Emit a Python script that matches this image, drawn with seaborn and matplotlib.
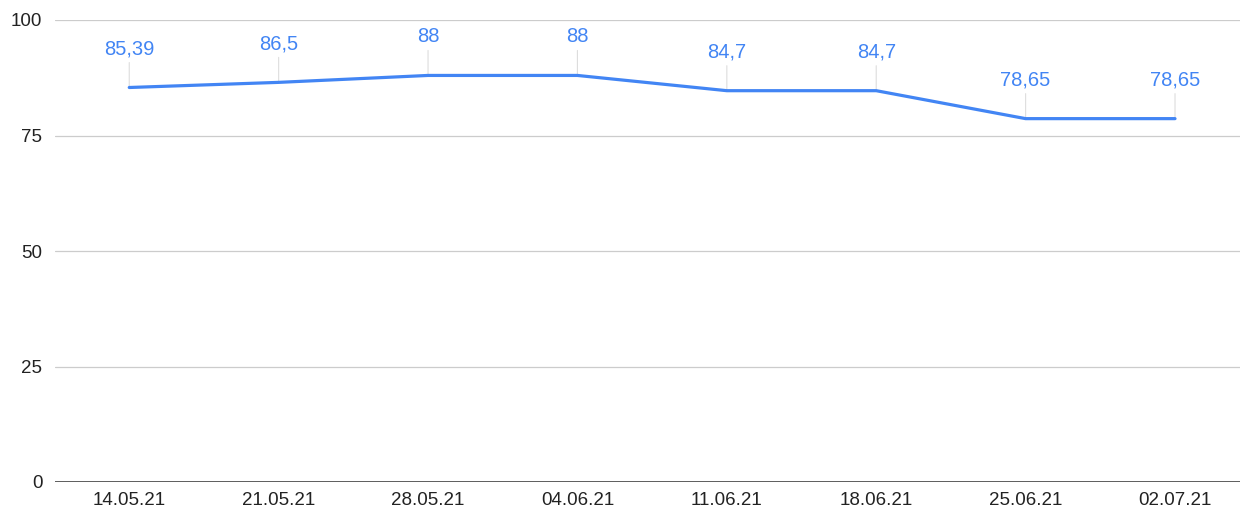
import pandas as pd
import matplotlib
matplotlib.use("Agg")
import matplotlib.pyplot as plt
import seaborn as sns

# data
dates = ["14.05.21", "21.05.21", "28.05.21", "04.06.21",
         "11.06.21", "18.06.21", "25.06.21", "02.07.21"]
values = [85.39, 86.5, 88, 88, 84.7, 84.7, 78.65, 78.65]
labels = ["85,39", "86,5", "88", "88", "84,7", "84,7", "78,65", "78,65"]

df = pd.DataFrame({"date": dates, "value": values})

sns.set_style("white")
plt.rcParams['font.family'] = ['Liberation Sans', 'DejaVu Sans']

fig = plt.figure(figsize=(12.4, 5.16), dpi=100)
ax = fig.add_axes([55 / 1240, 1 - 482 / 516, 1 - 55 / 1240, (482 - 20) / 516])

blue = "#4285F4"
sns.lineplot(data=df, x="date", y="value", ax=ax, color=blue, linewidth=2.3,
             sort=False, zorder=3)

# data labels with small leader lines
for i, (v, lab) in enumerate(zip(values, labels)):
    ax.annotate("", xy=(i, v), xytext=(0, 18), textcoords="offset points",
                arrowprops=dict(arrowstyle="-", color="#dddddd", lw=0.8,
                                shrinkA=0, shrinkB=0), zorder=2)
    ax.annotate(lab, xy=(i, v), xytext=(0, 21), textcoords="offset points",
                ha="center", va="bottom", color=blue, fontsize=14.5)

ax.set_ylim(0, 100)
ax.set_xlim(-0.497, 7.435)
ax.set_yticks([0, 25, 50, 75, 100])
ax.yaxis.grid(True, color="#cccccc", linewidth=0.9)
ax.axhline(0, color="#333333", linewidth=1.1, zorder=4)
for s in ax.spines.values():
    s.set_visible(False)
ax.tick_params(axis="both", length=0, labelsize=13.5, labelcolor="#222222")
ax.tick_params(axis="y", pad=9)
ax.tick_params(axis="x", pad=7)
ax.set_xlabel("")
ax.set_ylabel("")

fig.savefig("out.png", dpi=100)
